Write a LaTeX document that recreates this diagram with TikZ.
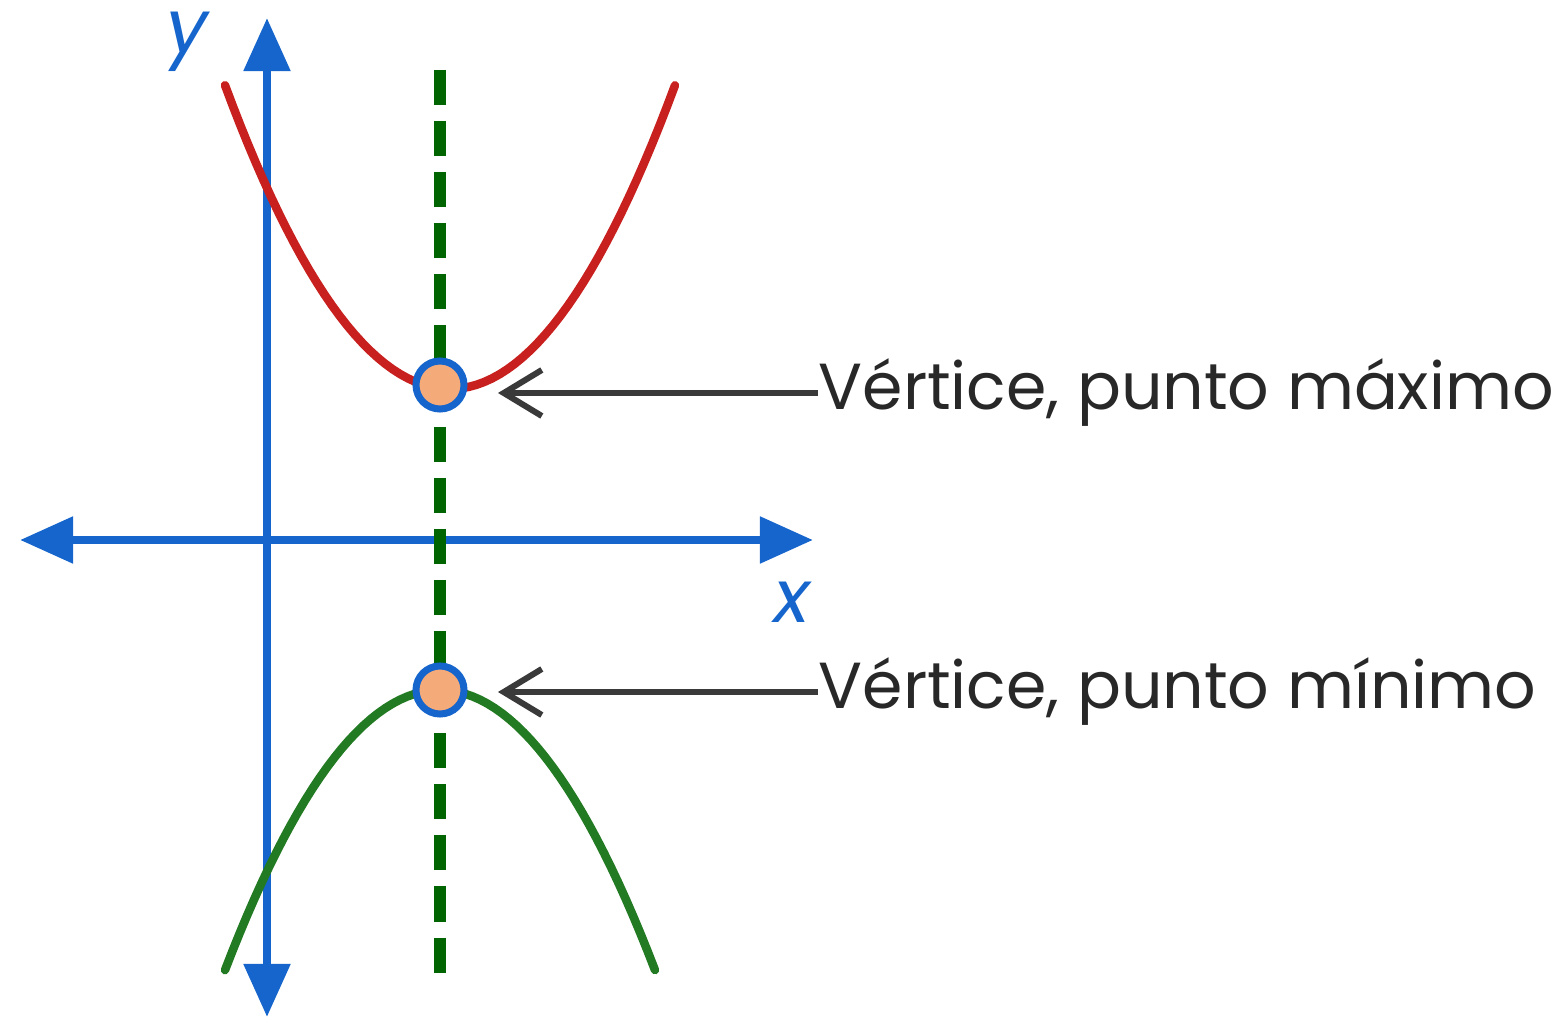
\documentclass[tikz,border=0pt]{standalone}
\usepackage{fontspec}
\setmainfont{Poppins}
\usetikzlibrary{arrows.meta}
\definecolor{axisblue}{RGB}{21,101,204}
\definecolor{curvered}{RGB}{200,32,30}
\definecolor{curvegreen}{RGB}{34,122,34}
\definecolor{symgreen}{RGB}{0,100,0}
\definecolor{vtxorange}{RGB}{245,170,122}
\definecolor{ptrgray}{RGB}{58,58,58}
\definecolor{textgray}{RGB}{40,40,40}

\begin{document}
\begin{tikzpicture}[x=0.01cm, y=-0.01cm,
  axis/.style={axisblue, line width=0.085cm, {Triangle[length=0.53cm,width=0.45cm]}-{Triangle[length=0.53cm,width=0.45cm]}},
  symline/.style={symgreen, line width=0.12cm, dash pattern=on 0.35cm off 0.16cm},
  curve/.style={line width=0.085cm, line cap=round},
  vtx/.style={circle, draw=axisblue, fill=vtxorange, line width=0.07cm, minimum size=0.48cm, inner sep=0pt},
  pointer/.style={ptrgray, line width=0.06cm, -{Straight Barb[length=0.38cm,width=0.46cm]}},
  vtxtext/.style={anchor=west, inner sep=0pt, text=textgray, font=\fontsize{18.5}{21}\selectfont},
  axtext/.style={text=axisblue, font=\fontsize{21}{24}\selectfont\itshape}]
  \useasboundingbox (0,0) rectangle (1561,1019);
  \coordinate (ytop) at (267,18);
  \coordinate (ybot) at (267,1017);
  \coordinate (xleft) at (20,540);
  \coordinate (xright) at (813,540);
  \coordinate (stop) at (440,70);
  \coordinate (sbot) at (440,973);
  \coordinate (amax) at (498,393);
  \coordinate (amin) at (498,692);
  % ejes
  \draw[axis] (ybot) -- (ytop);
  \draw[axis] (xleft) -- (xright);
  \node[axtext] (ylab) at (187,42) {y};
  \node[axtext] (xlab) at (792,602) {x};
  % eje de simetria
  \draw[symline] (stop) -- (sbot);
  % parabolas
  \draw[curve, curvered] plot[domain=-2.25:2.25, samples=60] ({450+100*\x}, {389-60*\x*\x});
  \draw[curve, curvegreen] plot[domain=-2.15:2.15, samples=60] ({440+100*\x}, {690+60.6*\x*\x});
  \node[vtx] (vmax) at (440,385) {};
  \node[vtx] (vmin) at (440,690) {};
  % textos
  \node[vtxtext] (tmax) at (818,393) {Vértice, punto máximo};
  \node[vtxtext] (tmin) at (818,692) {Vértice, punto mínimo};
  \draw[pointer] (tmax.west) -- (amax);
  \draw[pointer] (tmin.west) -- (amin);
\end{tikzpicture}
\end{document}
